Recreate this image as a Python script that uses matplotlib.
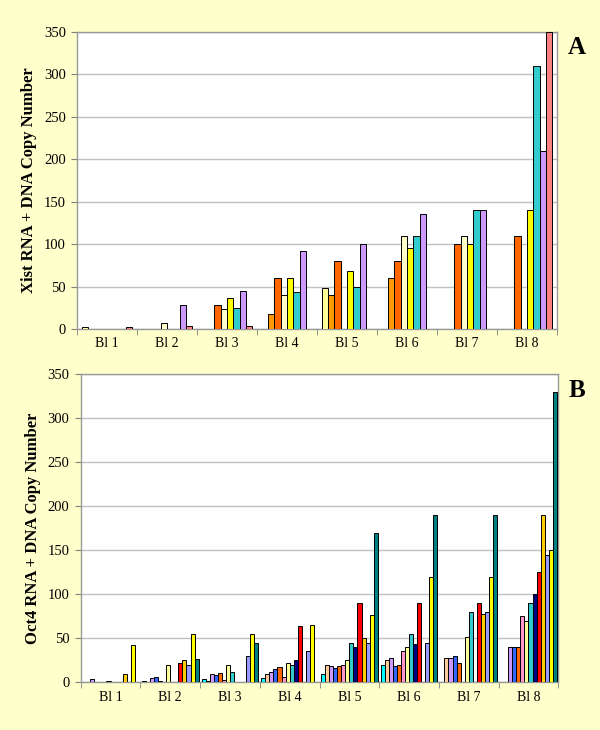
import matplotlib
matplotlib.use("Agg")
import matplotlib.pyplot as plt
import numpy as np

categories = ["Bl 1", "Bl 2", "Bl 3", "Bl 4", "Bl 5", "Bl 6", "Bl 7", "Bl 8"]

# Panel A: Xist (8 series)
xist_s1 = [2, 0, 0, 0, 48, 0, 0, 0]
xist_s2 = [0, 0, 0, 18, 40, 60, 0, 0]
xist_s3 = [0, 0, 28, 60, 80, 80, 100, 110]
xist_s4 = [0, 7, 24, 40, 0, 110, 110, 0]
xist_s5 = [0, 0, 37, 60, 68, 95, 100, 140]
xist_s6 = [0, 0, 25, 44, 50, 110, 140, 310]
xist_s7 = [0, 28, 45, 92, 100, 135, 140, 210]
xist_s8 = [2, 3, 4, 0, 0, 0, 0, 350]
xist_series = [xist_s1, xist_s2, xist_s3, xist_s4, xist_s5, xist_s6, xist_s7, xist_s8]
xist_colors = ["#FFFF99", "#FF9900", "#FF6600", "#FFFFCC", "#FFFF00", "#33CCCC", "#CC99FF", "#FF8080"]

# Panel B: Oct4 (14 series)
oct_s1 = [0, 2, 4, 5, 10, 20, 0, 0]
oct_s2 = [0, 0, 2, 10, 20, 25, 28, 0]
oct_s3 = [4, 5, 9, 12, 18, 28, 28, 40]
oct_s4 = [0, 6, 8, 15, 16, 18, 30, 40]
oct_s5 = [0, 2, 11, 17, 18, 20, 22, 40]
oct_s6 = [0, 0, 3, 6, 20, 36, 0, 75]
oct_s7 = [1, 20, 20, 22, 25, 40, 52, 70]
oct_s8 = [0, 0, 12, 20, 45, 55, 80, 90]
oct_s9 = [0, 0, 0, 25, 40, 44, 0, 100]
oct_s10 = [0, 22, 0, 64, 90, 90, 90, 125]
oct_s11 = [9, 25, 0, 0, 50, 0, 78, 190]
oct_s12 = [0, 20, 30, 36, 45, 45, 80, 145]
oct_s13 = [42, 55, 55, 65, 76, 120, 120, 150]
oct_s14 = [0, 26, 45, 0, 170, 190, 190, 330]
oct_series = [oct_s1, oct_s2, oct_s3, oct_s4, oct_s5, oct_s6, oct_s7,
              oct_s8, oct_s9, oct_s10, oct_s11, oct_s12, oct_s13, oct_s14]
oct_colors = ["#00FFFF", "#FFCC99", "#CC99FF", "#3366FF", "#FF6600", "#FF99CC", "#FFFF99",
              "#33CCCC", "#000080", "#FF0000", "#FFCC00", "#9999FF", "#FFFF00", "#008080"]

yticks = [0, 50, 100, 150, 200, 250, 300, 350]

BG = "#FFFFCC"
SERIF = ["Liberation Serif", "DejaVu Serif"]

fig = plt.figure(figsize=(6.0, 7.3), dpi=100)
fig.patch.set_facecolor(BG)


def draw_panel(ax, series, colors, width, ylabel, letter):
    n = len(series)
    x = np.arange(len(categories))
    for i, (vals, col) in enumerate(zip(series, colors)):
        vals = np.asarray(vals, dtype=float)
        off = (i - (n - 1) / 2) * width
        mask = vals > 0
        ax.bar(x[mask] + off, vals[mask], width=width, color=col,
               edgecolor="black", linewidth=0.7, zorder=3)
    ax.set_xlim(-0.5, len(categories) - 0.5)
    ax.set_ylim(0, 350)
    ax.set_yticks(yticks)
    ax.set_yticklabels([str(v) for v in yticks], fontsize=10.5, family=SERIF)
    ax.set_xticks(x)
    ax.set_xticklabels(categories, fontsize=10, family=SERIF)
    ax.set_xticks(np.arange(-0.5, len(categories)), minor=True)
    ax.tick_params(axis="x", which="major", length=0, pad=6)
    ax.tick_params(axis="x", which="minor", length=4, color="#808080", direction="out")
    ax.tick_params(axis="y", length=4, color="#808080", direction="out", pad=4)
    ax.grid(axis="y", color="#C0C0C0", linewidth=1.0, zorder=0)
    ax.set_axisbelow(True)
    for s in ax.spines.values():
        s.set_color("#999999")
        s.set_linewidth(1.0)
    ax.set_ylabel(ylabel, fontsize=12, fontweight="bold", family=SERIF, labelpad=5)
    ax.set_facecolor("white")
    ax.text(1.022, 0.985, letter, transform=ax.transAxes, fontsize=18,
            fontweight="bold", family=SERIF, va="top", ha="left")


axA = fig.add_axes([0.1283, 0.5493, 0.8, 0.4069])
draw_panel(axA, xist_series, xist_colors, 1 / 9.5,
           "Xist RNA + DNA Copy Number", "A")

axB = fig.add_axes([0.1345, 0.0653, 0.796, 0.4224])
draw_panel(axB, oct_series, oct_colors, 0.95 / 14,
           "Oct4 RNA + DNA Copy Number", "B")

fig.savefig("out.png", dpi=100, facecolor=BG)
